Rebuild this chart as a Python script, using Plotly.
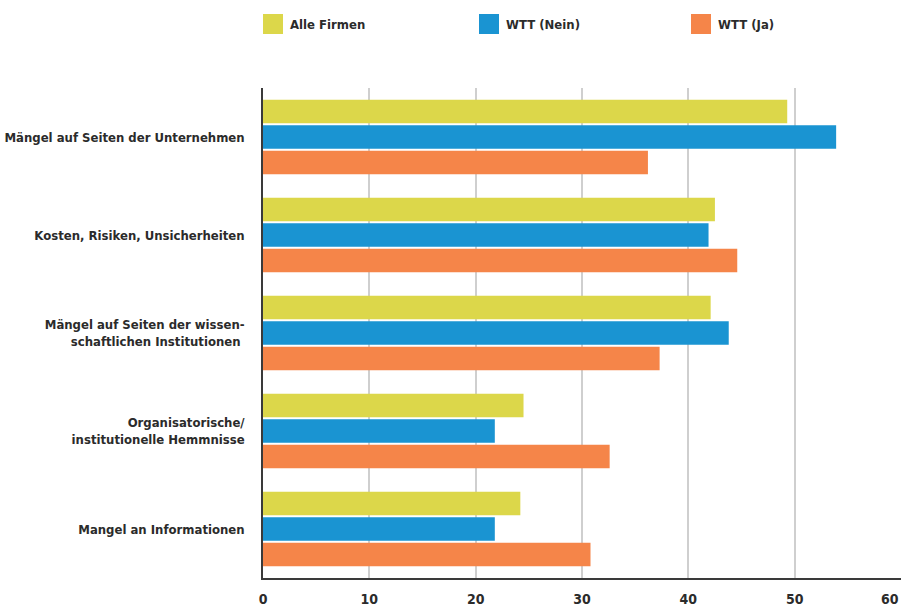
import plotly.graph_objects as go

# Barriers to knowledge and technology transfer (share of firms, %)
categories = [
    "Mängel auf Seiten der Unternehmen",
    "Kosten, Risiken, Unsicherheiten",
    "Mängel auf Seiten der wissen-<br>schaftlichen Institutionen ",
    "Organisatorische/<br>institutionelle Hemmnisse",
    "Mangel an Informationen",
]
series_names = ["Alle Firmen", "WTT (Nein)", "WTT (Ja)"]
alle_firmen = [49.3, 42.5, 42.1, 24.5, 24.2]
wtt_nein = [53.9, 41.9, 43.8, 21.8, 21.8]
wtt_ja = [36.2, 44.6, 37.3, 32.6, 30.8]
x_ticks = [0, 10, 20, 30, 40, 50, 60]

colors = ["#DCD74A", "#1A94D2", "#F58549"]
FONT = "DejaVu Sans Condensed, Liberation Sans Narrow, Arial Narrow, sans-serif"
TEXT = "#2b2b2b"
FS = 13
TICK_FS = 14

W, H = 902, 610
L, R, T, B = 263, 1, 88, 32

fig = go.Figure()
for name, vals, col in zip(series_names, [alle_firmen, wtt_nein, wtt_ja], colors):
    fig.add_trace(go.Bar(
        y=categories, x=vals, name=name, orientation="h",
        marker=dict(color=col, line=dict(width=0)),
        showlegend=False, hoverinfo="x+name",
    ))

# Legend drawn as coloured squares with labels above the plot area
pw = W - L - R
ph = H - T - B
def px_x(p):
    return (p - L) / pw
def px_y(p):
    return 1 + (T - p) / ph

legend_x = [263, 479, 691]
shapes = []
annotations = []
for name, col, lx in zip(series_names, colors, legend_x):
    shapes.append(dict(type="rect", xref="paper", yref="paper",
                       x0=px_x(lx), x1=px_x(lx + 20), y0=px_y(34), y1=px_y(14),
                       fillcolor=col, line=dict(width=0)))
    annotations.append(dict(xref="paper", yref="paper", x=px_x(lx + 25), y=px_y(24),
                            text=name, showarrow=False, xanchor="left", yanchor="middle",
                            font=dict(family=FONT, size=FS, color=TEXT, weight="bold")))

# Tick labels: the last one sits flush with the right edge
tick_text = [str(v) for v in x_ticks[:-1]] + [""]
annotations.append(dict(xref="x", yref="paper", x=x_ticks[-1], y=0, yshift=-11,
                        text=str(x_ticks[-1]), showarrow=False,
                        xanchor="right", yanchor="top",
                        font=dict(family=FONT, size=TICK_FS, color=TEXT, weight="bold")))

fig.update_layout(
    width=W, height=H,
    margin=dict(l=L, r=R, t=T, b=B, autoexpand=False),
    paper_bgcolor="white", plot_bgcolor="white",
    barmode="group", bargap=0.22, bargroupgap=0.08,
    shapes=shapes, annotations=annotations,
    font=dict(family=FONT, size=FS, color=TEXT),
    xaxis=dict(
        range=[0, 60], tickvals=x_ticks, ticktext=tick_text, ticks="",
        showgrid=True, gridcolor="#CFCFCF", gridwidth=1.5,
        zeroline=False, showline=True, linecolor="#3a3a3a", linewidth=2,
        tickfont=dict(family=FONT, size=TICK_FS, color=TEXT, weight="bold"),
        ticklabelstandoff=7, fixedrange=True,
    ),
    yaxis=dict(
        autorange="reversed", ticks="", showgrid=False,
        showline=True, linecolor="#3a3a3a", linewidth=1.5,
        tickfont=dict(family=FONT, size=FS, color=TEXT, weight="bold"),
        ticklabelstandoff=14, fixedrange=True,
    ),
)

fig.write_html("out.html")
